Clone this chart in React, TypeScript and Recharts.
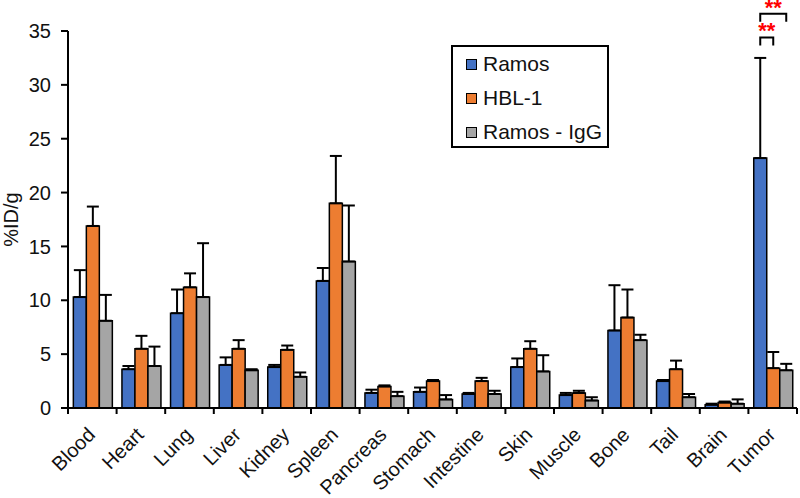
import React from "react";
import {
  BarChart,
  Bar,
  XAxis,
  YAxis,
  ErrorBar,
  Legend,
  LabelList,
} from "recharts";

const categories = [
  "Blood", "Heart", "Lung", "Liver", "Kidney", "Spleen", "Pancreas", "Stomach",
  "Intestine", "Skin", "Muscle", "Bone", "Tail", "Brain", "Tumor",
];
const ramos = [10.3, 3.6, 8.8, 4.0, 3.8, 11.8, 1.4, 1.5, 1.3, 3.8, 1.2, 7.2, 2.5, 0.3, 23.2];
const ramosErr = [2.5, 0.3, 2.2, 0.7, 0.2, 1.2, 0.3, 0.4, 0.1, 0.8, 0.2, 4.2, 0.1, 0.1, 9.3];
const hbl1 = [16.9, 5.5, 11.2, 5.5, 5.4, 19.0, 2.0, 2.5, 2.5, 5.5, 1.4, 8.4, 3.6, 0.5, 3.7];
const hbl1Err = [1.8, 1.2, 1.3, 0.8, 0.4, 4.4, 0.1, 0.1, 0.3, 0.7, 0.2, 2.6, 0.8, 0.1, 1.5];
const ramosIgG = [8.1, 3.9, 10.3, 3.5, 2.9, 13.6, 1.1, 0.8, 1.3, 3.4, 0.7, 6.3, 1.0, 0.4, 3.5];
const ramosIgGErr = [2.4, 1.8, 5.0, 0.1, 0.4, 5.2, 0.4, 0.4, 0.3, 1.5, 0.3, 0.5, 0.3, 0.4, 0.6];
const yTicks = [0, 5, 10, 15, 20, 25, 30, 35];
// significance brackets above Tumor: level and bar reached (1 = HBL-1, 2 = Ramos - IgG)
const sigBrackets = [
  { level: 34.4, to: 1, label: "**" },
  { level: 36.6, to: 2, label: "**" },
];

const series = [
  { key: "ramos", name: "Ramos", color: "#4472C4" },
  { key: "hbl1", name: "HBL-1", color: "#ED7D31" },
  { key: "igg", name: "Ramos - IgG", color: "#A5A5A5" },
];

const data = categories.map((c, i) => ({
  name: c,
  ramos: ramos[i],
  ramosErr: [0, ramosErr[i]],
  hbl1: hbl1[i],
  hbl1Err: [0, hbl1Err[i]],
  igg: ramosIgG[i],
  iggErr: [0, ramosIgGErr[i]],
}));

const FONT = "'Liberation Sans', Arial, sans-serif";

const CategoryTick = (props: any) => {
  const { x, y, payload, index } = props;
  const off = payload.offset || 0;
  const tx = x + 4;
  const ty = y + 28;
  return (
    <g>
      <line x1={x - off} x2={x - off} y1={y} y2={y + 6} stroke="#000" strokeWidth={2} />
      {index === categories.length - 1 && (
        <line x1={x + off} x2={x + off} y1={y} y2={y + 6} stroke="#000" strokeWidth={2} />
      )}
      <text
        x={tx}
        y={ty}
        textAnchor="end"
        fontSize={20}
        fontFamily={FONT}
        fill="#111"
        transform={`rotate(-45, ${tx}, ${ty})`}
      >
        {payload.value}
      </text>
    </g>
  );
};

const renderSig = (props: any) => {
  const { x, y, width, height, value, index } = props;
  if (index !== categories.length - 1) return null;
  const perUnit = height / value;
  const base = y + height;
  const x1 = x + width / 2;
  return (
    <g>
      {sigBrackets.map((b, i) => {
        const top = base - b.level * perUnit;
        const x2 = x + width * (b.to + 0.5);
        return (
          <g key={i}>
            <path
              d={`M${x1},${top + 8} L${x1},${top} L${x2},${top} L${x2},${top + 8}`}
              fill="none"
              stroke="#000"
              strokeWidth={2}
            />
            <text
              x={(x1 + x2) / 2}
              y={top + 1}
              textAnchor="middle"
              fontSize={22}
              fontWeight="bold"
              fontFamily={FONT}
              fill="#FF0000"
            >
              {b.label}
            </text>
          </g>
        );
      })}
    </g>
  );
};

const LegendBox = () => (
  <div
    style={{
      border: "2px solid #000",
      width: 154,
      height: 99,
      background: "#fff",
      fontFamily: FONT,
      fontSize: 21,
      color: "#111",
      boxSizing: "content-box",
    }}
  >
    {series.map((s) => (
      <div
        key={s.key}
        style={{ display: "flex", alignItems: "center", height: 34, paddingLeft: 13 }}
      >
        <span
          style={{
            display: "inline-block",
            width: 9,
            height: 9,
            background: s.color,
            border: "1.5px solid #000",
            marginRight: 6,
          }}
        />
        <span>{s.name}</span>
      </div>
    ))}
  </div>
);

export default function App() {
  return (
    <div style={{ position: "absolute", left: 0, top: 0, background: "#fff" }}>
      <BarChart
        width={800}
        height={498}
        data={data}
        margin={{ top: 31, right: 3, left: 0, bottom: 0 }}
        barCategoryGap="11%"
        barGap={0}
      >
        <XAxis
          dataKey="name"
          height={90}
          interval={0}
          tickLine={false}
          tickSize={0}
          tickMargin={0}
          axisLine={{ stroke: "#000", strokeWidth: 2 }}
          tick={<CategoryTick />}
        />
        <YAxis
          width={68}
          domain={[0, 35]}
          ticks={yTicks}
          interval={0}
          tickSize={7}
          tickMargin={10}
          axisLine={{ stroke: "#000", strokeWidth: 2 }}
          tickLine={{ stroke: "#000", strokeWidth: 2 }}
          tick={{ fontSize: 20, fill: "#111", fontFamily: FONT }}
          label={({ viewBox }: any) => (
            <text
              x={viewBox.x + 18}
              y={viewBox.y + viewBox.height / 2}
              textAnchor="middle"
              fontSize={20}
              fontFamily={FONT}
              fill="#111"
              transform={`rotate(-90, ${viewBox.x + 18}, ${viewBox.y + viewBox.height / 2})`}
            >
              %ID/g
            </text>
          )}
        />
        <Legend
          layout="horizontal"
          verticalAlign="middle"
          align="center"
          content={<LegendBox />}
          wrapperStyle={{ position: "absolute", left: 451, top: 45, width: "auto", height: "auto" }}
        />
        <Bar dataKey="ramos" name="Ramos" fill="#4472C4" stroke="#000" strokeWidth={1.5} isAnimationActive={false}>
          <ErrorBar dataKey="ramosErr" width={6} stroke="#000" strokeWidth={2} direction="y" />
          <LabelList dataKey="ramos" content={renderSig} />
        </Bar>
        <Bar dataKey="hbl1" name="HBL-1" fill="#ED7D31" stroke="#000" strokeWidth={1.5} isAnimationActive={false}>
          <ErrorBar dataKey="hbl1Err" width={6} stroke="#000" strokeWidth={2} direction="y" />
        </Bar>
        <Bar dataKey="igg" name="Ramos - IgG" fill="#A5A5A5" stroke="#000" strokeWidth={1.5} isAnimationActive={false}>
          <ErrorBar dataKey="iggErr" width={6} stroke="#000" strokeWidth={2} direction="y" />
        </Bar>
      </BarChart>
    </div>
  );
}
